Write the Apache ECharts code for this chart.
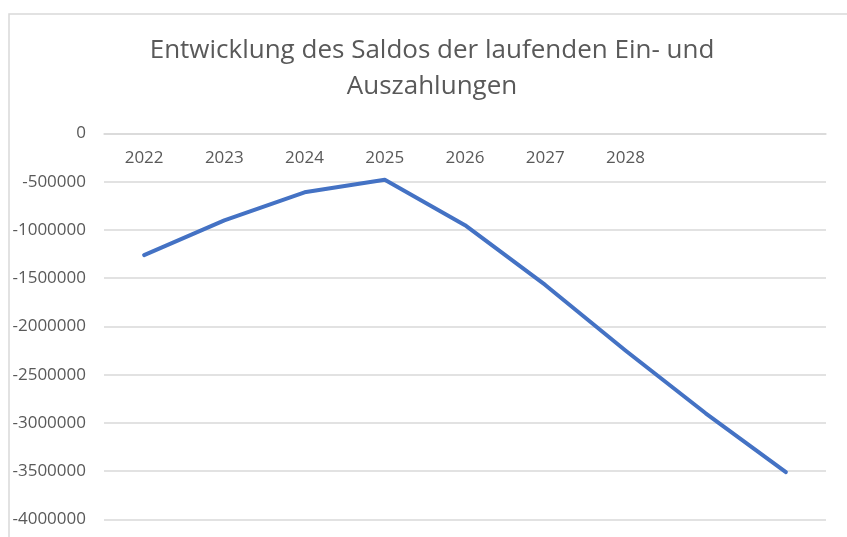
<!DOCTYPE html>
<html>
<head>
<meta charset="utf-8">
<script src="https://cdn.jsdelivr.net/npm/echarts@6/dist/echarts.min.js"></script>
<style>
  html, body { margin: 0; padding: 0; background: #fff; }
  #chart { width: 847px; height: 537px; }
</style>
</head>
<body>
<div id="chart"></div>
<script>
// Jahre (die letzten beiden Kategorien sind im Original unbeschriftet)
const years = ['2022', '2023', '2024', '2025', '2026', '2027', '2028', '', '']
const saldo = [-1260000, -900000, -610000, -480000, -950000, -1570000, -2250000, -2900000, -3510000]
const yMin = -4000000
const yMax = 0
const yStep = 500000

const chart = echarts.init(document.getElementById('chart'))
const option = {
  animation: false,
  textStyle: { fontFamily: 'Open Sans' },
  graphic: [
    {
      type: 'rect',
      shape: { x: 9, y: 14, width: 900, height: 600 },
      style: { fill: 'none', stroke: '#d9d9d9', lineWidth: 1.5 },
      silent: true,
    },
  ],
  title: {
    text: 'Entwicklung des Saldos der laufenden Ein- und\nAuszahlungen',
    left: 432,
    top: 33,
    padding: 0,
    textAlign: 'center',
    textStyle: {
      color: '#595959',
      fontSize: 26,
      fontWeight: 'normal',
      lineHeight: 36,
      fontFamily: 'Open Sans',
    },
  },
  grid: {
    left: 104,
    right: 21,
    top: 133.5,
    bottom: 17.6,
    containLabel: false,
    outerBoundsMode: 'none',
  },
  xAxis: {
    type: 'category',
    position: 'top',
    data: years,
    boundaryGap: true,
    axisLine: { show: true, lineStyle: { color: '#d9d9d9', width: 1.5 } },
    axisTick: { show: false },
    axisLabel: { color: '#595959', fontSize: 17, inside: true, margin: 16, interval: 0 },
  },
  yAxis: {
    type: 'value',
    min: yMin,
    max: yMax,
    interval: yStep,
    axisLine: { show: false },
    axisTick: { show: false },
    axisLabel: { color: '#595959', fontSize: 17, margin: 18, formatter: (v) => String(v) },
    splitLine: { lineStyle: { color: '#d9d9d9', width: 1.5 } },
  },
  series: [
    {
      name: 'Saldo',
      type: 'line',
      data: saldo,
      symbol: 'none',
      lineStyle: { color: '#4472c4', width: 4, cap: 'round', join: 'round' },
    },
  ],
}
chart.setOption(option)
</script>
</body>
</html>
